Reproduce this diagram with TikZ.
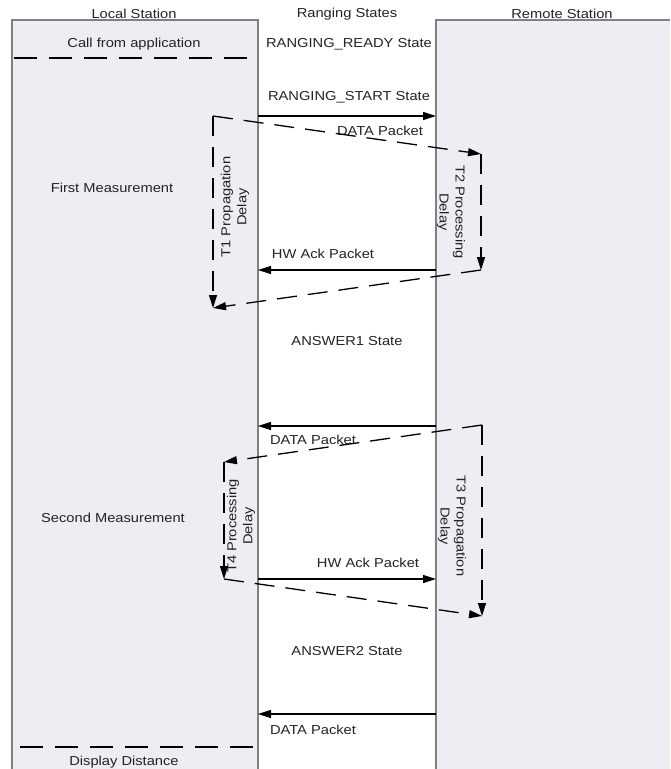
\documentclass[tikz,border=0pt]{standalone}
\usepackage{fontspec}
\setmainfont[FakeStretch=1.13]{Liberation Sans}
\usepackage{tikz}
\usetikzlibrary{arrows.meta}
\definecolor{stationfill}{RGB}{239,236,243}
\definecolor{stationline}{RGB}{128,128,128}
\definecolor{labeltext}{RGB}{35,35,35}

\begin{document}
\begin{tikzpicture}[x=1pt,y=-1pt,
        label/.style={inner sep=0pt,text=labeltext,font=\fontsize{13}{16}\selectfont},
        rotlabel/.style={label,align=center},
        msg/.style={line width=1.1pt,-{Triangle[length=13pt,width=8pt]}},
        delay/.style={line width=1.3pt,dash pattern=on 20pt off 11pt,-{Triangle[length=13pt,width=8pt]}},
        separator/.style={line width=1.3pt,dash pattern=on 23pt off 12pt}]
    \useasboundingbox (0,0) rectangle (670,769);

    % Stations
    \fill[stationfill] (12,20) rectangle (258,769);
    \fill[stationfill] (436,20) rectangle (670,769);
    \draw[stationline,line width=1.1pt] (12,769) -- (12,20) -- (258,20) -- (258,769);
    \draw[stationline,line width=1.1pt] (436,769) -- (436,20) -- (670,20);

    % Headers
    \node[label] (local) at (134,14) {Local Station};
    \node[label] (ranging) at (347,14) {Ranging States};
    \node[label] (remote) at (562,14) {Remote Station};

    % Start
    \node[label] (call) at (134,44) {Call from application};
    \node[label] (ready) at (349,44) {RANGING\_READY State};
    \node[label] (start) at (349,97) {RANGING\_START State};
    \coordinate (sepa) at (14,58);
    \coordinate (sepb) at (250,58);
    \draw[separator] (sepa) -- (sepb);

    % First measurement
    \node[label] (first) at (112,188) {First Measurement};
    \node[label] (data1) at (380,131) {DATA Packet};
    \node[label] (ack1) at (323,254) {HW Ack Packet};
    \node[rotlabel,rotate=90] (t1) at (235,207) {T1 Propagation\\Delay};
    \node[rotlabel,rotate=-90] (t2) at (451,212) {T2 Processing\\Delay};
    \coordinate (s1) at (258,116);
    \coordinate (r1) at (436,116);
    \coordinate (s2) at (258,270);
    \coordinate (r2) at (436,270);
    \coordinate (t1a) at (213,116);
    \coordinate (t1b) at (213,308);
    \coordinate (t2a) at (481,154);
    \coordinate (t2b) at (481,270);
    \draw[msg] (s1) -- (r1);
    \draw[msg] (r2) -- (s2);
    \draw[delay] (t1a) -- (t2a);
    \draw[delay] (t2a) -- (t2b);
    \draw[delay] (t2b) -- (t1b);
    \draw[delay] (t1a) -- (t1b);

    \node[label] (answer1) at (347,341) {ANSWER1 State};

    % Second measurement
    \node[label] (second) at (113,518) {Second Measurement};
    \node[label] (data2) at (313,440) {DATA Packet};
    \node[label] (ack2) at (368,563) {HW Ack Packet};
    \node[rotlabel,rotate=90] (t4) at (241,526) {T4 Processing\\Delay};
    \node[rotlabel,rotate=-90] (t3) at (452,526) {T3 Propagation\\Delay};
    \coordinate (s3) at (258,426);
    \coordinate (r3) at (436,426);
    \coordinate (s4) at (258,579);
    \coordinate (r4) at (436,579);
    \coordinate (t3a) at (482,425);
    \coordinate (t3b) at (482,616);
    \coordinate (t4a) at (224,462);
    \coordinate (t4b) at (224,579);
    \draw[msg] (r3) -- (s3);
    \draw[msg] (s4) -- (r4);
    \draw[delay] (t3a) -- (t4a);
    \draw[delay] (t4a) -- (t4b);
    \draw[delay] (t4b) -- (t3b);
    \draw[delay] (t3a) -- (t3b);

    \node[label] (answer2) at (347,651) {ANSWER2 State};

    % End
    \node[label] (data3) at (313,730) {DATA Packet};
    \coordinate (s5) at (258,714);
    \coordinate (r5) at (436,714);
    \draw[msg] (r5) -- (s5);
    \coordinate (sepc) at (20,747);
    \coordinate (sepd) at (258,747);
    \draw[separator] (sepc) -- (sepd);
    \node[label] (display) at (124,762) {Display Distance};
\end{tikzpicture}
\end{document}
